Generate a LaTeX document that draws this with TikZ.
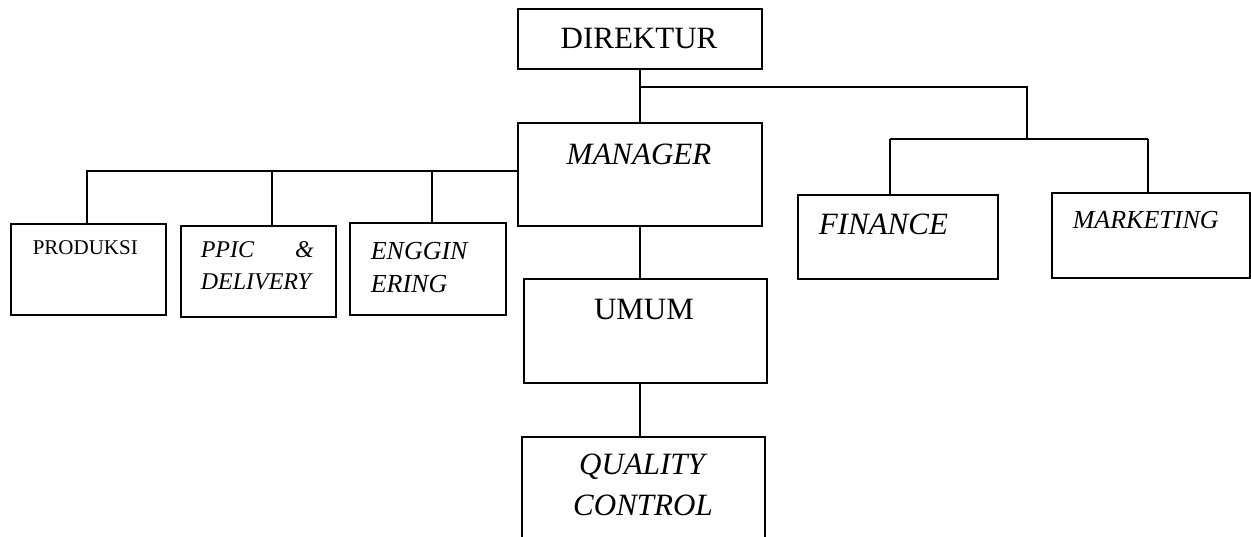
\documentclass[tikz,border=0pt]{standalone}
\usepackage{fontspec}
\setmainfont{Liberation Serif}
\usepackage{tikz}
\tikzset{box/.style={draw, line width=1.6pt, inner sep=0pt, anchor=north west}}
\tikzset{lbl/.style={inner sep=0pt}}
\newcommand{\fs}[1]{\fontsize{#1}{#1}\selectfont}

\begin{document}
\begin{tikzpicture}[x=1pt, y=-1pt, line width=1.6pt]
\useasboundingbox (0,0) rectangle (1251,537);

\node[box, minimum width=244pt, minimum height=60pt] (dir) at (517,8) {};
\node[box, minimum width=244pt, minimum height=103pt] (mgr) at (517,122) {};
\node[box, minimum width=155pt, minimum height=91pt] (prod) at (10,223) {};
\node[box, minimum width=155pt, minimum height=91pt] (ppic) at (180,225) {};
\node[box, minimum width=156pt, minimum height=92pt] (eng) at (349,222) {};
\node[box, minimum width=243pt, minimum height=104pt] (umum) at (523,278) {};
\node[box, minimum width=243pt, minimum height=130pt] (qc) at (521,436) {};
\node[box, minimum width=200pt, minimum height=84pt] (fin) at (797,194) {};
\node[box, minimum width=198pt, minimum height=85pt] (mkt) at (1051,192) {};

\node[lbl] (tdir) at (639,39) {\fs{31}DIREKTUR};
\node[lbl] (tmgr) at (639,154) {\fs{31}\itshape MANAGER};
\node[lbl, anchor=west] (tfin) at (818,224) {\fs{31}\itshape FINANCE};
\node[lbl, anchor=west] (tmkt) at (1072,220) {\fs{26}\itshape MARKETING};
\node[lbl, anchor=west] (tprod) at (32,248) {\fs{21}PRODUKSI};
\node[lbl, anchor=west] (tppic) at (200,250) {\fs{24}\itshape\makebox[113pt][s]{PPIC\hfill\&}};
\node[lbl, anchor=west] (tdel) at (200,282) {\fs{24}\itshape DELIVERY};
\node[lbl, anchor=west] (teng) at (370,251) {\fs{26}\itshape ENGGIN};
\node[lbl, anchor=west] (tering) at (370,284) {\fs{26}\itshape ERING};
\node[lbl] (tumum) at (644,310) {\fs{31}UMUM};
\node[lbl] (tqc) at (642,467) {\fs{31}\itshape QUALITY};
\node[lbl] (tctl) at (643,505) {\fs{31}\itshape CONTROL};

% direktur - manager - umum - qc
\draw (dir.south) -- (mgr.north);
\draw (mgr.south) -- (mgr.south |- umum.north);
\draw (umum.south -| mgr.south) -- (qc.north -| mgr.south);

% right branch
\coordinate (rtop) at (639,87);
\coordinate (rbus) at (1027,139);
\coordinate (cfin) at (890,139);
\coordinate (cmkt) at (1148,139);
\draw (rtop) -- (rtop -| rbus) -- (rbus);
\draw (cfin) -- (cmkt);
\draw (cfin) -- (cfin |- fin.north);
\draw (cmkt) -- (cmkt |- mkt.north);

% left branch
\coordinate (lbus) at (87,171);
\coordinate (cppic) at (272,171);
\coordinate (ceng) at (432,171);
\draw (mgr.west |- lbus) -- (lbus) -- (lbus |- prod.north);
\draw (cppic) -- (cppic |- ppic.north);
\draw (ceng) -- (ceng |- eng.north);

\end{tikzpicture}
\end{document}
